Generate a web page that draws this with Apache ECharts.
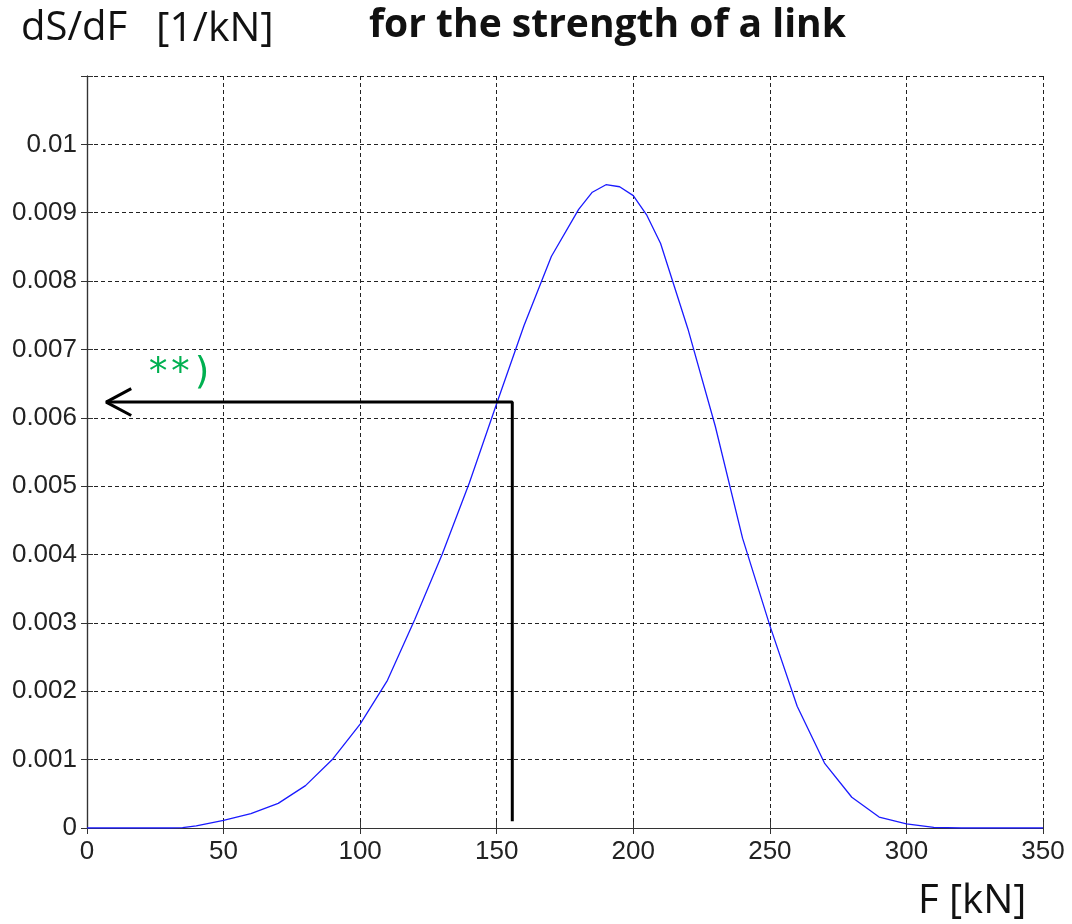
<!DOCTYPE html>
<html>
<head>
<meta charset="utf-8">
<title>dS/dF for the strength of a link</title>
<script src="https://cdn.jsdelivr.net/npm/echarts@6/dist/echarts.min.js"></script>
<style>
  html, body { margin: 0; padding: 0; background: #fff; }
  #chart { width: 1072px; height: 924px; }
</style>
</head>
<body>
<div id="chart"></div>
<script>
// force F [kN]
const forceKN = [0, 10, 20, 30, 35, 40, 50, 60, 70, 80, 90, 100, 110, 120, 130, 140, 150, 160, 170, 180,
  185, 190, 195, 200, 205, 210, 220, 230, 240, 250, 260, 270, 280, 290, 300, 310, 320, 330, 340, 350];
// density dS/dF [1/kN]
const density = [0, 0, 0, 0, 0.000005, 0.00003, 0.00011, 0.00021, 0.00036, 0.00062, 0.00101, 0.00152, 0.00216, 0.00305, 0.00400, 0.00505, 0.00621, 0.00735, 0.00836, 0.00905,
  0.0093, 0.00941, 0.00938, 0.00925, 0.00896, 0.00855, 0.00730, 0.00588, 0.00424, 0.00296, 0.00178, 0.00095, 0.00045, 0.00016, 0.00006, 0.00001, 0, 0, 0, 0];
const xTicks = [0, 50, 100, 150, 200, 250, 300, 350];

// reading arrow: up from F = 155.7 to the curve, then left to the axis
const readF = 155.7;
const readValue = 0.00623;
const arrowPath = [[readF, 0.0001], [readF, readValue], [7, readValue]];
const arrowHead = [[16.2, readValue + 0.000196], [7, readValue], [16.2, readValue - 0.000196]];

const curve = forceKN.map((f, i) => [f, density[i]]);

const chart = echarts.init(document.getElementById('chart'));

const gridLine = { show: true, lineStyle: { color: '#222', width: 1, type: [4, 3] } };
const axisLineStyle = { show: true, lineStyle: { color: '#333', width: 1.2 } };
const tickStyle = { show: true, inside: true, length: 6, lineStyle: { color: '#333' } };

const option = {
  animation: false,
  backgroundColor: '#fff',
  grid: { left: 87, right: 29, top: 76, bottom: 96 },
  xAxis: [
    {
      type: 'value', min: 0, max: 350, interval: 50, position: 'bottom',
      axisLine: axisLineStyle, axisTick: tickStyle, splitLine: gridLine,
      axisLabel: { margin: 11, fontFamily: 'Liberation Sans', fontSize: 26, color: '#222',
        formatter: v => xTicks.indexOf(v) >= 0 ? String(v) : '' }
    },
    {
      type: 'value', min: 0, max: 350, interval: 50, position: 'top',
      axisLine: axisLineStyle, axisTick: tickStyle, splitLine: { show: false }, axisLabel: { show: false }
    }
  ],
  yAxis: [
    {
      type: 'value', min: 0, max: 0.011, interval: 0.001, position: 'left',
      axisLine: axisLineStyle, axisTick: tickStyle, splitLine: gridLine,
      axisLabel: { margin: 10, fontFamily: 'Liberation Sans', fontSize: 26, color: '#222',
        formatter: v => {
          if (v > 0.0105) return '';
          if (v === 0) return '0';
          return String(+v.toFixed(3));
        } }
    },
    {
      type: 'value', min: 0, max: 0.011, interval: 0.001, position: 'right',
      axisLine: axisLineStyle, axisTick: tickStyle, splitLine: { show: false }, axisLabel: { show: false }
    }
  ],
  series: [
    {
      type: 'line', data: curve, showSymbol: false, smooth: false,
      lineStyle: { color: '#1a1aff', width: 1.3 }, z: 3
    },
    {
      type: 'line', data: arrowPath, showSymbol: false,
      lineStyle: { color: '#000', width: 3 }, z: 4
    },
    {
      type: 'line', data: arrowHead, showSymbol: false,
      lineStyle: { color: '#000', width: 3 }, z: 4
    }
  ],
  graphic: [
    { type: 'text', left: 21, top: 9,
      style: { text: 'dS/dF', font: '40px "Open Sans"', fill: '#111' } },
    { type: 'text', left: 156, top: 9,
      style: { text: '[1/kN]', font: '41px "Open Sans"', fill: '#111' } },
    { type: 'text', left: 369, top: 6,
      style: { text: 'for the strength of a link', font: 'bold 39px "Open Sans"', fill: '#111' } },
    { type: 'text', left: 918, top: 882,
      style: { text: 'F [kN]', font: '40px "Open Sans"', fill: '#111' } },
    { type: 'text', left: 147, top: 356,
      style: { text: '**)', font: '37px "DejaVu Sans Mono"', fill: '#00b050' } }
  ]
};

chart.setOption(option);
</script>
</body>
</html>
